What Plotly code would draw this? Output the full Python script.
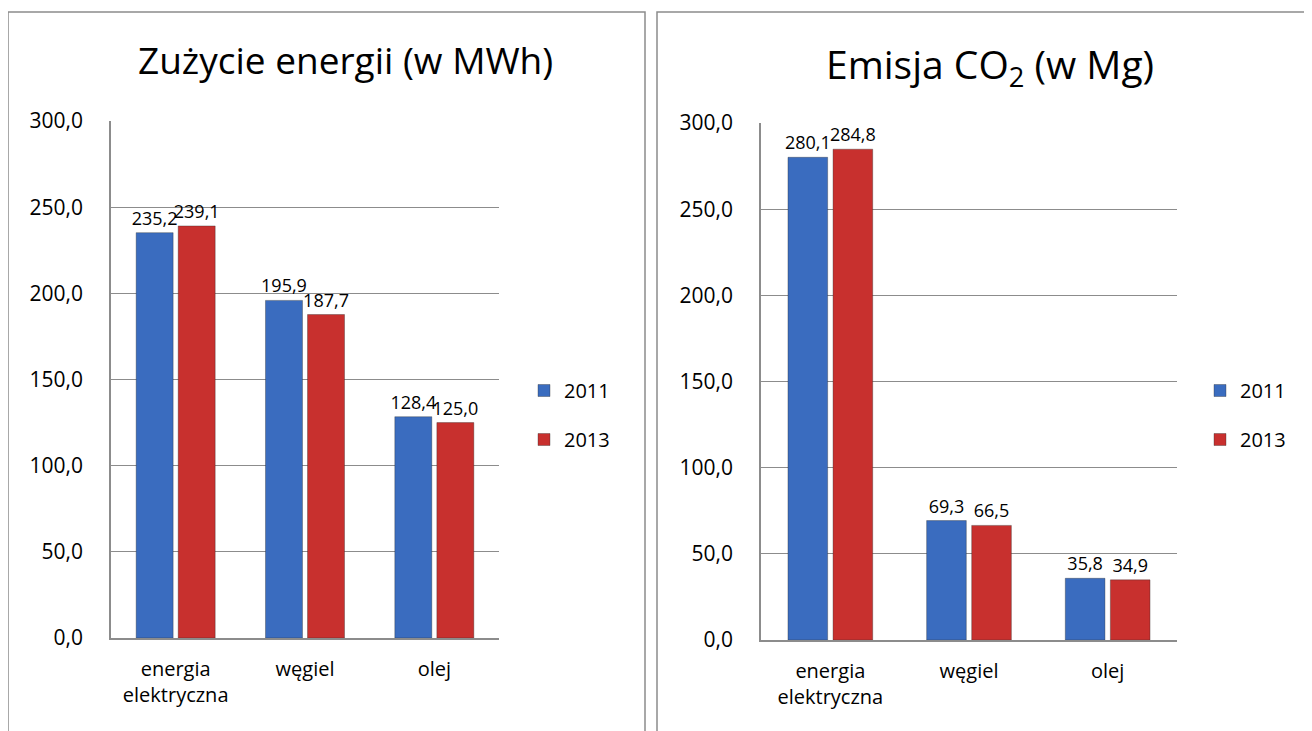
import plotly.graph_objs as go

categories = ['energia<br>elektryczna', 'węgiel', 'olej']
years = ['2011', '2013']

energy_2011 = [235.2, 195.9, 128.4]
energy_2013 = [239.1, 187.7, 125.0]

co2_2011 = [280.1, 69.3, 35.8]
co2_2013 = [284.8, 66.5, 34.9]

y_ticks = [0, 50, 100, 150, 200, 250, 300]

W, H = 1312, 731
OFF = 8  # page body margin
blue = '#3a6cbf'
red = '#c8302e'
font_name = 'Open Sans'


def px_x(v):
    return (v - OFF) / W


def px_y(v):
    return 1 - (v - OFF) / H


fig = go.Figure()

left = [(energy_2011, blue, '2011'), (energy_2013, red, '2013')]
right = [(co2_2011, blue, '2011'), (co2_2013, red, '2013')]

for i, (vals, col, name) in enumerate(left + right):
    side = 'l' if i < 2 else 'r'
    fig.add_trace(go.Bar(
        x=categories, y=vals, name=name,
        marker=dict(color=col, line=dict(color='rgba(40,40,40,0.35)', width=1)),
        texttemplate='%{y:.1f}', textposition='outside', cliponaxis=False,
        constraintext='none',
        textfont=dict(size=18, color='black'),
        xaxis='x' if side == 'l' else 'x2',
        yaxis='y' if side == 'l' else 'y2',
        legend='legend' if side == 'l' else 'legend2',
        legendgroup=side + name,
    ))

yaxis_common = dict(
    range=[0, 300], tickvals=y_ticks, tickformat='.1f',
    showgrid=True, gridcolor='#8c8c8c', gridwidth=1,
    showline=True, linecolor='#8c8c8c', linewidth=1.5,
    zeroline=False, ticks='', ticklabelstandoff=22,
    tickfont=dict(size=21, color='black'), fixedrange=True,
    automargin=False,
)
xaxis_common = dict(
    showline=True, linecolor='#8c8c8c', linewidth=1.5,
    ticks='', ticklabelstandoff=12,
    tickfont=dict(size=20, color='black'), fixedrange=True,
    automargin=False,
)
legend_common = dict(
    font=dict(size=20, color='black'), xanchor='left', yanchor='middle',
    tracegroupgap=20, bgcolor='rgba(0,0,0,0)', itemwidth=30,
)

fig.update_layout(
    width=W, height=H,
    margin=dict(l=0, r=0, t=0, b=0, autoexpand=False),
    paper_bgcolor='white', plot_bgcolor='white',
    font=dict(family=font_name, color='black'),
    separators=', ',
    barmode='group', bargap=0.35, bargroupgap=0.12,
    showlegend=True,
    xaxis=dict(domain=[px_x(111), px_x(499)], anchor='y', **xaxis_common),
    yaxis=dict(domain=[px_y(638), px_y(121)], anchor='x', **yaxis_common),
    xaxis2=dict(domain=[px_x(761), px_x(1177)], anchor='y2', **xaxis_common),
    yaxis2=dict(domain=[px_y(640), px_y(123)], anchor='x2', **yaxis_common),
    legend=dict(x=px_x(524), y=px_y(415), **legend_common),
    legend2=dict(x=px_x(1200), y=px_y(415), **legend_common),
)

# titles
fig.add_annotation(text='Zużycie energii (w MWh)', x=px_x(345), y=px_y(60),
                   xref='paper', yref='paper', showarrow=False,
                   xanchor='center', yanchor='middle',
                   font=dict(size=37, color='black'))
fig.add_annotation(text='Emisja CO<sub>2</sub> (w Mg)', x=px_x(990), y=px_y(66),
                   xref='paper', yref='paper', showarrow=False,
                   xanchor='center', yanchor='middle',
                   font=dict(size=39, color='black'))

# panel frames
for x0, x1 in [(8, 645), (657, 1306)]:
    fig.add_shape(type='rect', xref='paper', yref='paper',
                  x0=px_x(x0), x1=px_x(x1), y0=-0.1, y1=px_y(12),
                  line=dict(color='#8c8c8c', width=1.5), layer='below')

fig.write_html('out.html')
